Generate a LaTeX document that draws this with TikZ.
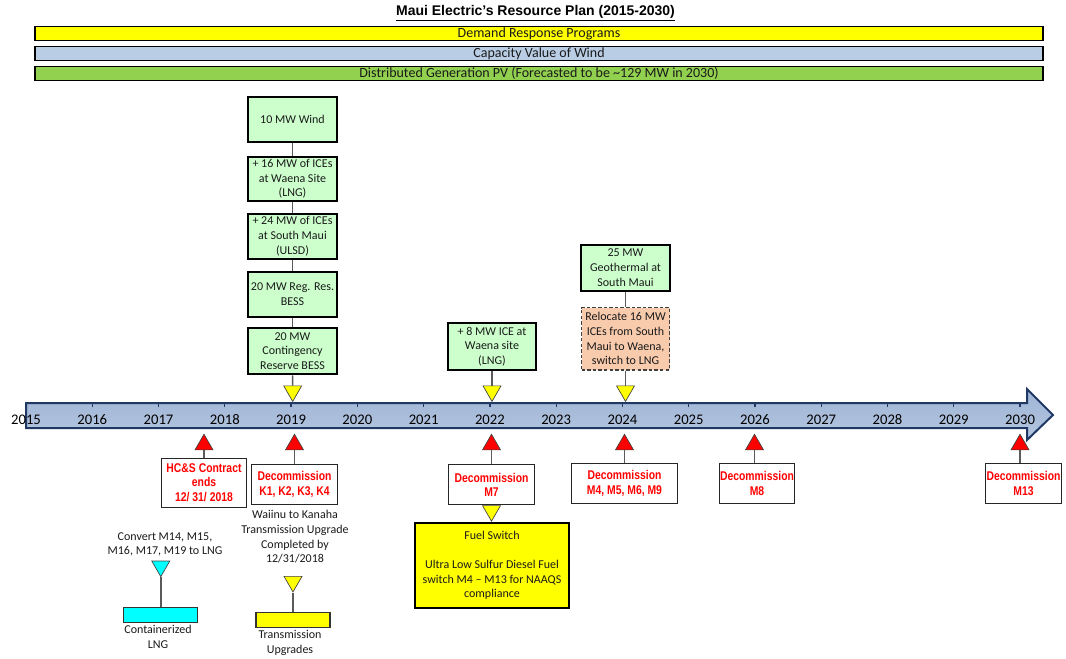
\documentclass[tikz,border=0pt]{standalone}
\usepackage{fontspec}
\setmainfont{Carlito}
\newfontfamily\arialfont{Liberation Sans}
\newfontfamily\narrowfont{Liberation Sans}[FakeStretch=0.82]
\usetikzlibrary{shapes.geometric}
\definecolor{boxgreen}{HTML}{CCFFCC}
\definecolor{barblue}{HTML}{B9CDE4}
\definecolor{bargreen}{HTML}{92D050}
\definecolor{peach}{HTML}{F8CBAD}
\definecolor{navy}{HTML}{1F3864}
\definecolor{tltop}{HTML}{9FB5D6}
\definecolor{tlbot}{HTML}{B3C5DF}
\definecolor{conngray}{HTML}{5A5A5A}
\definecolor{txtdark}{HTML}{1A1A1A}
\definecolor{aqua}{HTML}{00FFFF}
\definecolor{pureyellow}{HTML}{FFFF00}
\definecolor{purered}{HTML}{FF0000}
\begin{document}
\begin{tikzpicture}[x=0.75pt,y=-0.75pt,
  bar/.style={draw=black, line width=1.3pt, minimum width=756pt, minimum height=10.5pt, inner sep=0pt, font=\fontsize{10.5}{12}\selectfont, text=txtdark},
  greenbox/.style={draw=black, line width=1.4pt, fill=boxgreen, minimum width=66.5pt, minimum height=33.4pt, inner sep=0pt, align=center, font=\fontsize{9}{11}\selectfont, text=txtdark},
  relocbox/.style={draw=black!75, line width=0.9pt, dash pattern=on 2.6pt off 1.6pt, fill=peach, minimum width=66pt, minimum height=46.8pt, inner sep=0pt, align=center, font=\fontsize{9}{11}\selectfont, text=txtdark},
  decbox/.style={draw=black!85, line width=0.7pt, fill=white, minimum height=30pt, inner sep=0pt, align=center, text=purered, font=\narrowfont\bfseries\fontsize{9.5}{11}\selectfont},
  fuelbox/.style={draw=black, line width=1.4pt, fill=pureyellow, minimum width=115.5pt, minimum height=64pt, inner sep=0pt, align=center, font=\fontsize{9}{11}\selectfont, text=txtdark},
  plaintext/.style={inner sep=0pt, align=center, font=\fontsize{9}{11}\selectfont, text=txtdark},
  yearlbl/.style={inner sep=0pt, font=\fontsize{11}{13}\selectfont, text=black},
  tri/.style={regular polygon, regular polygon sides=3, minimum size=15.6pt, inner sep=0pt, draw=black!75, line width=0.5pt},
  uptri/.style={tri, fill=purered},
  downtri/.style={tri, shape border rotate=180, fill=pureyellow},
  cyantri/.style={tri, shape border rotate=180, fill=aqua},
  smallrect/.style={draw=black!80, line width=0.8pt, minimum width=55.5pt, minimum height=11.5pt, inner sep=0pt},
  conn/.style={draw=conngray, line width=1.1pt}
]
\useasboundingbox (0,0) rectangle (1066,659);

% title
\node (title) at (535.5,13) {\arialfont\bfseries\fontsize{10.5}{12}\selectfont\underline{Maui Electric’s Resource Plan (2015-2030)}};

% bars
\node[bar, fill=pureyellow] (drp) at (539,33.5) {Demand Response Programs};
\node[bar, fill=barblue] (cvw) at (539,53.4) {Capacity Value of Wind};
\node[bar, fill=bargreen] (dgpv) at (539,73.4) {Distributed Generation PV (Forecasted to be \textasciitilde129 MW in 2030)};

% timeline
\draw[navy, line width=1.5pt, top color=tltop, bottom color=tlbot]
  (26,403) -- (1027,403) -- (1027,389) -- (1053,415) -- (1027,440) -- (1027,428) -- (26,428) -- cycle;
\foreach \k in {1,...,15} \draw[navy, line width=1pt] (26+66.27*\k,403) -- ++(0,3.5);
\foreach \k in {0,...,15} {
  \pgfmathtruncatemacro\yr{2015+\k}
  \node[yearlbl] (yr\k) at (26+66.27*\k,420) {\yr};
}

% 2019 stack
\node[greenbox] (b1) at (292.5,119.7) {10 MW Wind};
\node[greenbox] (b2) at (292.5,179) {+ 16 MW of ICEs\\at Waena Site\\(LNG)};
\node[greenbox] (b3) at (292.5,236.3) {+ 24 MW of ICEs\\at South Maui\\(ULSD)};
\node[greenbox] (b4) at (292.5,294.3) {20 MW Reg. Res.\\BESS};
\node[greenbox, minimum height=35pt] (b5) at (292.5,351) {20 MW\\Contingency\\Reserve BESS};
\draw[conn] (b1) -- (b2);
\draw[conn] (b2) -- (b3);
\draw[conn] (b3) -- (b4);
\draw[conn] (b4) -- (b5);
\node[downtri, anchor=north] (ty1) at (292.7,385.5) {};
\draw[conn] (b5.south) -- (ty1.north);

% 2022
\node[greenbox, minimum height=35pt] (ice8) at (492,346.7) {+ 8 MW ICE at\\Waena site\\(LNG)};
\node[downtri, anchor=north] (ty2) at (492,385.5) {};
\draw[conn] (ice8.south) -- (ty2.north);

% 2024
\node[greenbox, minimum height=34.8pt] (geo) at (625.5,267.8) {25 MW\\Geothermal at\\South Maui};
\node[relocbox] (reloc) at (625.5,338.8) {Relocate 16 MW\\ICEs from South\\Maui to Waena,\\switch to LNG};
\draw[conn] (geo) -- (reloc);
\node[downtri, anchor=north] (ty3) at (625.5,385.5) {};
\draw[conn] (reloc.south) -- (ty3.north);

% red markers and decommission boxes
\node[uptri, anchor=north] (rt1) at (204,433.6) {};
\node[uptri, anchor=north] (rt2) at (294.5,433.6) {};
\node[uptri, anchor=north] (rt3) at (491.5,433.6) {};
\node[uptri, anchor=north] (rt4) at (624.5,433.6) {};
\node[uptri, anchor=north] (rt5) at (754.5,433.6) {};
\node[uptri, anchor=north] (rt6) at (1020,433.6) {};

\node[decbox, minimum width=64pt, minimum height=36.7pt] (hcs) at (204,482.6) {HC\&S Contract\\ends\\12/ 31/ 2018};
\node[decbox, minimum width=64.5pt] (dk) at (294.5,484.5) {Decommission\\K1, K2, K3, K4};
\node[decbox, minimum width=64pt] (dm7) at (491.5,484.8) {Decommission\\M7};
\node[decbox, minimum width=79.5pt] (dm4) at (624.5,483.5) {Decommission\\M4, M5, M6, M9};
\node[decbox, minimum width=56.5pt] (dm8) at (757,483.5) {Decommission\\M8};
\node[decbox, minimum width=57pt] (dm13) at (1023.5,483.5) {Decommission\\M13};
\draw[conn] (rt1.south) -- (hcs.north);
\draw[conn] (rt2.south) -- (dk.north);
\draw[conn] (rt3.south) -- (dm7.north);
\draw[conn] (rt4.south) -- (dm4.north);
\draw[conn] (rt5.south) -- (rt5.south |- dm8.north);
\draw[conn] (rt6.south) -- (rt6.south |- dm13.north);

% fuel switch
\node[downtri, anchor=north] (ty4) at (dm7.south) {};
\node[fuelbox] (fuel) at (492,565.4) {Fuel Switch\\[11pt]Ultra Low Sulfur Diesel Fuel\\switch M4 – M13 for NAAQS\\compliance};

% containerized LNG
\node[plaintext] (convtxt) at (165,544.5) {Convert M14, M15,\\M16, M17, M19 to LNG};
\node[cyantri, anchor=north] (ct) at (160.8,560.7) {};
\node[smallrect, fill=aqua] (crect) at (160.8,615) {};
\draw[conn] (ct.south) -- (crect.north);
\node[plaintext] (clng) at (158,637) {Containerized\\LNG};

% transmission upgrades
\node[plaintext] (wtxt) at (295,537) {Waiinu to Kanaha\\Transmission Upgrade\\Completed by\\12/31/2018};
\node[downtri, anchor=north] (yt) at (293,576) {};
\node[smallrect, fill=pureyellow] (yrect) at (293,619.7) {};
\draw[conn] (yt.south) -- (yrect.north);
\node[plaintext] (tup) at (290,643) {Transmission\\Upgrades};
\end{tikzpicture}
\end{document}
